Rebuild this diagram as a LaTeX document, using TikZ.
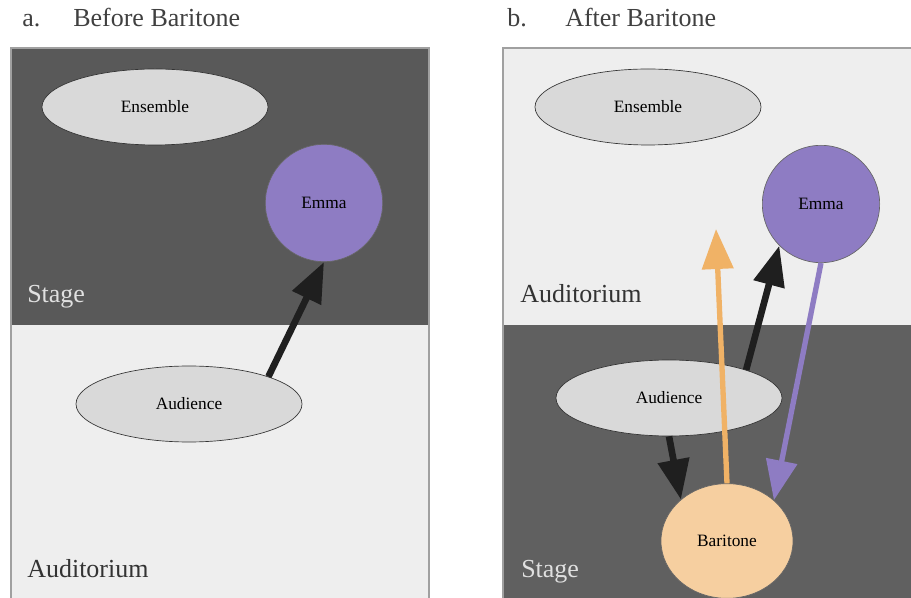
\documentclass[tikz,border=0pt]{standalone}
\usepackage{fontspec}
\setmainfont{Liberation Serif}
\usetikzlibrary{arrows.meta,shapes.geometric}

\definecolor{stagea}{HTML}{595959}
\definecolor{stageb}{HTML}{606060}
\definecolor{hall}{HTML}{EEEEEE}
\definecolor{crowdfill}{HTML}{D9D9D9}
\definecolor{emmafill}{HTML}{8E7CC3}
\definecolor{barifill}{HTML}{F6CFA0}
\definecolor{orangeline}{HTML}{F0B266}
\definecolor{frame}{HTML}{A0A0A0}

\tikzset{
  crowd/.style={ellipse, draw=black!80, line width=0.5pt, fill=crowdfill,
    minimum width=169.5pt, minimum height=57pt, inner sep=0pt,
    font=\fontsize{13}{15}\selectfont},
  singer/.style={circle, draw=black!60, line width=0.5pt, fill=emmafill,
    minimum size=88pt, inner sep=0pt, font=\fontsize{13}{15}\selectfont},
  area/.style={anchor=base west, inner sep=0pt, font=\fontsize{19.5}{23}\selectfont},
  caption/.style={anchor=base west, inner sep=0pt, text=black!75,
    font=\fontsize{19.5}{23}\selectfont},
  link/.style={line width=5pt, -{Triangle[length=30pt,width=23pt]}},
}

\begin{document}
\begin{tikzpicture}[x=0.75pt,y=-0.75pt]
\useasboundingbox (0,0) rectangle (911,598);

% titles
\node[caption] (la) at (22,27) {a.};
\node[caption] (ta) at (73,27) {Before Baritone};
\node[caption] (lb) at (507,27) {b.};
\node[caption] (tb) at (565,27) {After Baritone};

% panel a
\fill[stagea] (11,48) rectangle (429,325);
\fill[hall] (11,325) rectangle (429,598);
\draw[frame, line width=1.5pt] (11,598) -- (11,48) -- (429,48) -- (429,598);
\node[area, text=white!88!black] (stga) at (27,303) {Stage};
\node[area, text=black!80] (auda) at (27,578) {Auditorium};

\node[crowd] (ensa) at (155,107) {Ensemble};
\node[singer] (emmaa) at (324,203) {Emma};
\node[crowd] (aua) at (189,404) {Audience};

\draw[link, black!88] (aua.19) -- (emmaa.south);

% panel b
\fill[hall] (503,48) rectangle (911,325);
\fill[stageb] (503,325) rectangle (911,598);
\draw[frame, line width=1.5pt] (503,598) -- (503,48) -- (911,48);
\node[area, text=black!80] (audb) at (520,303) {Auditorium};
\node[area, text=white!88!black] (stgb) at (521,577) {Stage};

\node[crowd] (ensb) at (648,107) {Ensemble};
\node[singer] (emmab) at (821,204) {Emma};
\node[crowd] (aub) at (669,398) {Audience};
\node[ellipse, draw=black!60, line width=0.5pt, fill=barifill, minimum width=99pt,
  minimum height=86pt, inner sep=0pt, font=\fontsize{13}{15}\selectfont]
  (bari) at (727,541) {Baritone};
\coordinate (gaze) at (716,229);

\draw[link, black!88] (aub.20) -- (emmab.225);
\draw[link, black!88] (aub.south) -- (bari.138);
\draw[link, orangeline, line width=4pt] (bari.north) -- (gaze);
\draw[link, emmafill, line width=4pt] (emmab.south) -- (bari.41);

\end{tikzpicture}
\end{document}
